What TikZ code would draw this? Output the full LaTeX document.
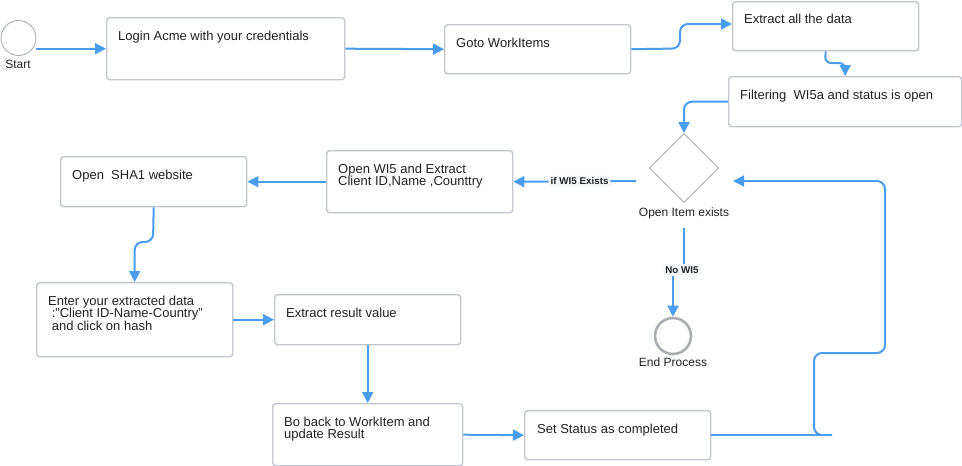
\documentclass[tikz,border=0pt]{standalone}
\usepackage{fontspec}
\setmainfont{Liberation Sans}
\usetikzlibrary{shapes.geometric,arrows.meta}
\definecolor{flowblue}{HTML}{4A9DEE}
\definecolor{boxgray}{HTML}{C2C7CD}
\definecolor{txtcol}{HTML}{222222}
\definecolor{lblfill}{HTML}{F2F7FA}
\definecolor{circgray}{HTML}{A9AEB3}
\begin{document}
\begin{tikzpicture}[x=1pt,y=-1pt,
 box/.style={draw=boxgray, line width=1.4pt, rounded corners=3pt, fill=white, inner sep=0, anchor=north west},
 btxt/.style={inner sep=0, anchor=north west, align=left, text=txtcol, font=\fontsize{13}{12.5}\selectfont},
 captxt/.style={inner sep=0, text=txtcol, font=\fontsize{12}{14}\selectfont},
 flow/.style={draw=flowblue, line width=2pt, -{Triangle[length=11pt,width=11pt]}},
 plain/.style={draw=flowblue, line width=2pt},
 lbl/.style={fill=lblfill, rounded corners=2pt, inner sep=2pt, text=txtcol, font=\fontsize{9.8}{11}\selectfont\bfseries}
]
\useasboundingbox (0,0) rectangle (962,466);

% start / end
\node[circle, draw=circgray, line width=0.9pt, minimum size=35pt, inner sep=0] (start) at (18.5,38) {};
\node[captxt] (startlab) at (18,64) {Start};

% boxes
\node[box, minimum width=238pt, minimum height=62pt] (login) at (106,17) {};
\node[btxt] (logint) at (118,30.5) {Login Acme with your credentials};

\node[box, minimum width=186pt, minimum height=49pt] (goto) at (444,24) {};
\node[btxt] (gotot) at (456,37.5) {Goto WorkItems};

\node[box, minimum width=186pt, minimum height=49pt] (extract) at (732,1) {};
\node[btxt] (extractt) at (744,13.5) {Extract all the data};

\node[box, minimum width=233pt, minimum height=50pt] (filter) at (728,76) {};
\node[btxt] (filtert) at (740,89.5) {Filtering\ \ WI5a and status is open};

\node[diamond, draw=gray!80, line width=0.8pt, minimum width=69pt, minimum height=69pt, inner sep=0] (dia) at (684,168) {};
\node[captxt] (dlab) at (684,213) {Open Item exists};

\node[box, minimum width=186pt, minimum height=62pt] (openwi) at (326,150) {};
\node[btxt] (openwit) at (338,163.5) {Open WI5 and Extract\\Client ID,Name ,Counttry};

\node[box, minimum width=186pt, minimum height=50pt] (sha) at (60,156) {};
\node[btxt] (shat) at (72,169.5) {Open\ \ SHA1 website};

\node[box, minimum width=196pt, minimum height=74pt] (enter) at (36,282) {};
\node[btxt] (entert) at (48,295.5) {Enter your extracted data\\\ :"Client ID-Name-Country"\\\ and click on hash};

\node[box, minimum width=186pt, minimum height=50pt] (exres) at (274,294) {};
\node[btxt] (exrest) at (286,307.5) {Extract result value};

\node[box, minimum width=190pt, minimum height=62pt] (bo) at (272,403) {};
\node[btxt] (bot) at (284,416.5) {Bo back to WorkItem and\\update Result};

\node[box, minimum width=186pt, minimum height=49pt] (set) at (524,410) {};
\node[btxt] (sett) at (537,423.5) {Set Status as completed};

\node[circle, draw=circgray, line width=2.6pt, minimum size=36pt, inner sep=0] (endc) at (673,336) {};
\node[captxt] (endlab) at (673,362) {End Process};

% connectors
\draw[flow] (start.east |- login.west) -- (login.west);
\draw[flow] (login.east) -- (goto.west);
\draw[flow, rounded corners=8pt] (goto.east) -- (680,48.5) -- (680,24) -- (extract.west |- 0,24);
\draw[flow, rounded corners=6pt] (extract.south) -- (825,63) -| (filter.north);
\draw[flow, rounded corners=8pt] (filter.west) -| (dia.north);

\coordinate (ifstart) at (636,181);
\draw[flow] (ifstart) -- node[lbl, pos=0.46] (ifl) {if WI5 Exists} (openwi.east);
\draw[flow] (openwi.west) -- (sha.east);
\draw[flow, rounded corners=8pt] (sha.south) -- (153,242) -| (enter.north);
\draw[flow] (enter.east) -- (exres.west);
\draw[flow] (exres.south) -- (bo.north);
\draw[flow] (bo.east) -- (set.west);

\coordinate (lp0) at (832,435);
\coordinate (lp1) at (814,435);
\coordinate (lp2) at (814,353);
\coordinate (lp3) at (885,353);
\coordinate (lp4) at (885,181);
\coordinate (lp5) at (733,181);
\draw[plain] (set.east |- lp0) -- (lp0);
\draw[flow, rounded corners=8pt] (lp0) -- (lp1) -- (lp2) -- (lp3) -- (lp4) -- (lp5);

\coordinate (nwtop) at (684,228);
\node[lbl] (nowi) at (682,270) {No WI5};
\draw[plain] (nwtop) -- (nwtop |- nowi.north);
\draw[flow] (nowi.south -| endc.north) -- (endc.north);
\end{tikzpicture}
\end{document}
